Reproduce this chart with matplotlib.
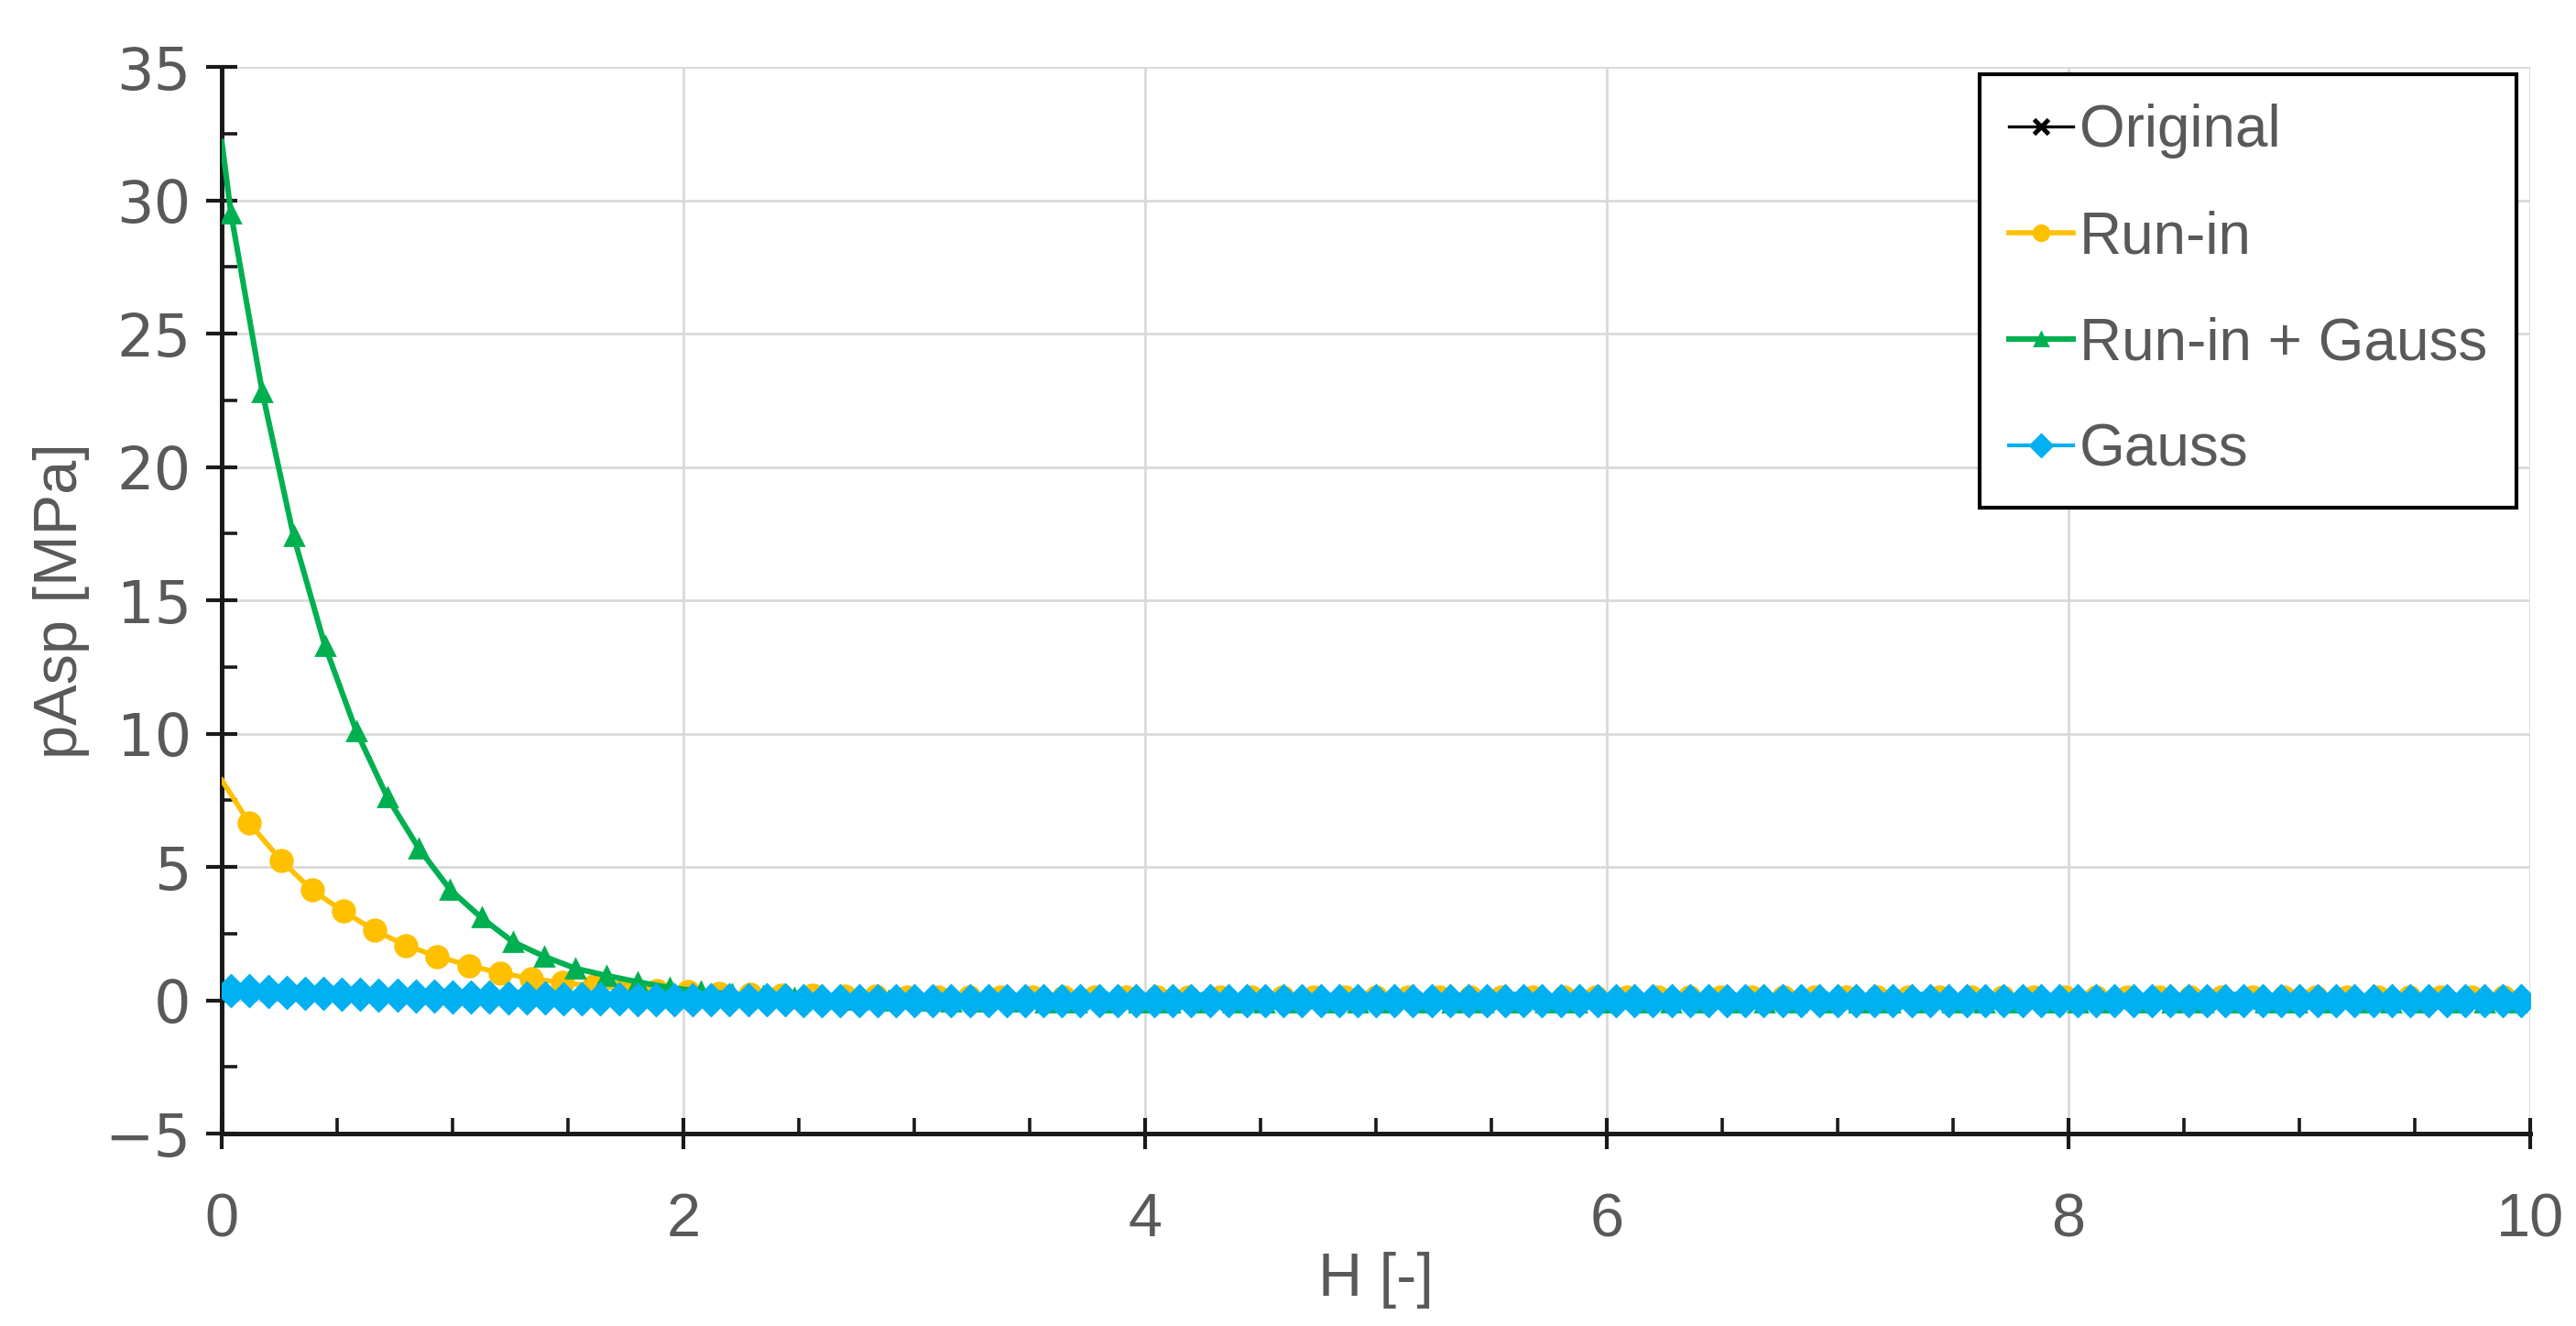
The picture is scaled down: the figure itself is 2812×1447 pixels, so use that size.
import numpy as np
import matplotlib.pyplot as plt
from matplotlib.ticker import MultipleLocator

plt.rcParams['font.family'] = ['Liberation Sans', 'DejaVu Sans']

# pAsp [MPa]
original = [
    0.45, 0.42, 0.39, 0.36, 0.33, 0.31, 0.29, 0.27, 0.25, 0.23,
    0.21, 0.19, 0.17, 0.16, 0.14, 0.13, 0.12, 0.11, 0.10, 0.09,
    0.08, 0.07, 0.06, 0.05, 0.05, 0.04, 0.04, 0.03, 0.03, 0.02,
    0.02, 0.02, 0.01, 0.01, 0.01, 0.01, 0, 0, 0, 0,
    0, 0, 0, 0, 0, 0, 0, 0, 0, 0,
    0, 0, 0, 0, 0, 0, 0, 0, 0, 0,
    0, 0, 0, 0, 0, 0, 0, 0, 0, 0,
    0, 0, 0, 0, 0, 0, 0, 0, 0, 0,
    0, 0, 0, 0, 0, 0, 0, 0, 0, 0,
    0, 0, 0, 0, 0, 0, 0, 0, 0, 0,
    0, 0, 0, 0, 0, 0, 0, 0, 0, 0,
    0, 0, 0, 0, 0, 0, 0, 0, 0, 0,
    0, 0, 0, 0, 0, 0,
]
run_in = [
    8.26, 6.64, 5.26, 4.13, 3.34, 2.62, 2.06, 1.65, 1.31, 1.03,
    0.82, 0.66, 0.54, 0.45, 0.38, 0.32, 0.27, 0.23, 0.20, 0.18,
    0.16, 0.15, 0.14, 0.13, 0.12, 0.12, 0.12, 0.12, 0.12, 0.12,
    0.12, 0.12, 0.12, 0.12, 0.12, 0.12, 0.12, 0.12, 0.12, 0.12,
    0.12, 0.12, 0.12, 0.12, 0.12, 0.12, 0.12, 0.12, 0.12, 0.12,
    0.12, 0.12, 0.12, 0.12, 0.12, 0.12, 0.12, 0.12, 0.12, 0.12,
    0.12, 0.12, 0.12, 0.12, 0.12, 0.12, 0.12, 0.12, 0.12, 0.12,
    0.12, 0.12, 0.12, 0.12,
]
run_in_gauss = [
    32.2, 29.5, 22.8, 17.4, 13.3, 10.1, 7.6, 5.7, 4.15, 3.1,
    2.2, 1.65, 1.2, 0.93, 0.69, 0.48, 0.34, 0.24, 0.16, 0.10,
    0.06, 0.03, 0.0, -0.02, -0.04, -0.05, -0.06, -0.07, -0.08, -0.08,
    -0.08, -0.08, -0.08, -0.08, -0.08, -0.08, -0.08, -0.08, -0.08, -0.08,
    -0.08, -0.08, -0.08, -0.08, -0.08, -0.08, -0.08, -0.08, -0.08, -0.08,
    -0.08, -0.08, -0.08, -0.08, -0.08, -0.08, -0.08, -0.08, -0.08, -0.08,
    -0.08, -0.08, -0.08, -0.08, -0.08, -0.08, -0.08, -0.08, -0.08, -0.08,
    -0.08, -0.08, -0.08, -0.08, -0.08,
]
gauss = [
    0.38, 0.35, 0.33, 0.30, 0.28, 0.26, 0.24, 0.22, 0.20, 0.18,
    0.16, 0.15, 0.13, 0.12, 0.11, 0.10, 0.09, 0.08, 0.07, 0.06,
    0.05, 0.05, 0.04, 0.03, 0.03, 0.02, 0.02, 0.02, 0.01, 0.01,
    0.01, 0, 0, 0, 0, 0, 0, 0, 0, 0,
    0, 0, 0, 0, 0, 0, 0, 0, 0, 0,
    0, 0, 0, 0, 0, 0, 0, 0, 0, 0,
    0, 0, 0, 0, 0, 0, 0, 0, 0, 0,
    0, 0, 0, 0, 0, 0, 0, 0, 0, 0,
    0, 0, 0, 0, 0, 0, 0, 0, 0, 0,
    0, 0, 0, 0, 0, 0, 0, 0, 0, 0,
    0, 0, 0, 0, 0, 0, 0, 0, 0, 0,
    0, 0, 0, 0, 0, 0, 0, 0, 0, 0,
    0, 0, 0, 0, 0,
]

# H sample positions (first point of run-in curves sits on the axis, no marker)
h_orig = 0.08 * np.arange(len(original))
h_gauss = 0.04 + 0.08 * np.arange(len(gauss))
h_run = np.r_[0.0, 0.12 + 0.1356 * np.arange(len(run_in) - 1)]
h_rg = np.r_[0.0, 0.04 + 0.1356 * np.arange(len(run_in_gauss) - 1)]

grey = '#595959'

fig = plt.figure(figsize=(14.06, 7.235), dpi=200)
ax = fig.add_axes([0.0861, 0.145, 0.8961, 0.8045])

ax.plot(h_orig, original, color='black', lw=1.2, marker='x', ms=8, mew=1.8,
        label='Original', zorder=3)
ax.plot(h_run, run_in, color='#FFC000', lw=2.0, marker='o', ms=8.5,
        markevery=slice(1, None), label='Run-in', zorder=3)
ax.plot(h_rg, run_in_gauss, color='#00B050', lw=2.2, marker='^', ms=7.5,
        markevery=slice(1, None), label='Run-in + Gauss', zorder=3)
ax.plot(h_gauss, gauss, color='#00B0F0', lw=1.5, marker='D', ms=8.5,
        label='Gauss', zorder=3)

ax.set_xlim(0, 10)
ax.set_ylim(-5, 35)
ax.xaxis.set_major_locator(MultipleLocator(2))
ax.xaxis.set_minor_locator(MultipleLocator(0.5))
ax.yaxis.set_major_locator(MultipleLocator(5))
ax.yaxis.set_minor_locator(MultipleLocator(2.5))
ax.grid(which='major', color='#d9d9d9', lw=1.0, zorder=0)
ax.set_axisbelow(True)

for s in ['top', 'right']:
    ax.spines[s].set_visible(False)
for s in ['left', 'bottom']:
    ax.spines[s].set_linewidth(1.8)
    ax.spines[s].set_color('#1a1a1a')

ax.tick_params(which='major', direction='inout', length=12, width=1.5,
               color='#1a1a1a', labelcolor=grey)
ax.tick_params(axis='x', which='major', pad=17, labelsize=24)
ax.tick_params(axis='y', which='major', pad=6, labelsize=23)
ax.tick_params(which='minor', direction='in', length=6, width=1.3, color='#1a1a1a')
for t in ax.get_yticklabels():
    t.set_family('DejaVu Sans')

ax.set_xlabel('H [-]', fontsize=24, color=grey, labelpad=1)
ax.set_ylabel('pAsp [MPa]', fontsize=24, color=grey, labelpad=6)

leg = ax.legend(loc='upper right', bbox_to_anchor=(2747 / 2812, 1 - 81 / 1447),
                bbox_transform=fig.transFigure, fontsize=23, labelcolor=grey,
                frameon=True, fancybox=False, framealpha=1, edgecolor='black',
                handlelength=1.1, handletextpad=0.1, labelspacing=0.88,
                borderpad=0.5, borderaxespad=0, markerscale=0.7)
leg.get_frame().set_linewidth(1.5)

fig.savefig('out.png', dpi=200)
